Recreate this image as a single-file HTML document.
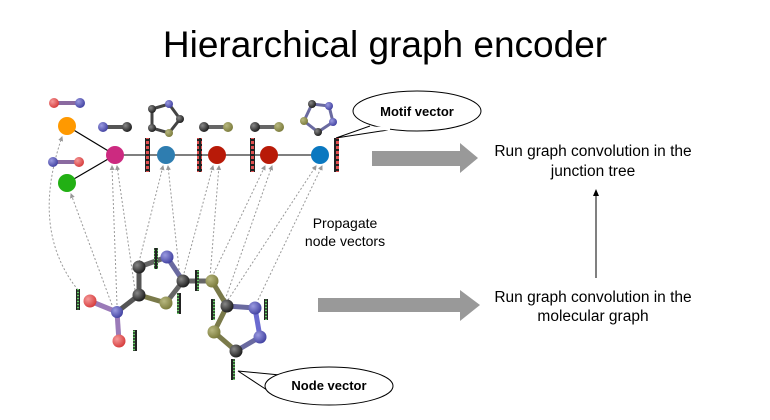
<!DOCTYPE html>
<html><head><meta charset="utf-8"><style>
html,body{margin:0;padding:0;background:#fff;}
svg{display:block;font-family:"Liberation Sans",Arial,sans-serif;}
</style></head><body>
<svg width="770" height="420" viewBox="0 0 770 420" xmlns="http://www.w3.org/2000/svg">
<defs>
<radialGradient id="gK" cx="35%" cy="35%" r="70%"><stop offset="0" stop-color="#888"/><stop offset="1" stop-color="#1a1a1a"/></radialGradient>
<radialGradient id="gB" cx="35%" cy="35%" r="70%"><stop offset="0" stop-color="#9a9ae0"/><stop offset="1" stop-color="#4040a0"/></radialGradient>
<radialGradient id="gR" cx="35%" cy="35%" r="70%"><stop offset="0" stop-color="#f59a9a"/><stop offset="1" stop-color="#d63a3a"/></radialGradient>
<radialGradient id="gS" cx="35%" cy="35%" r="70%"><stop offset="0" stop-color="#b8b880"/><stop offset="1" stop-color="#7a7a3a"/></radialGradient>
<marker id="ah" markerWidth="5" markerHeight="5" refX="4" refY="2.5" orient="auto"><path d="M0,0L5,2.5L0,5z" fill="#999"/></marker>
<pattern id="rb" width="5" height="5" patternUnits="userSpaceOnUse"><rect width="5" height="5" fill="#222"/><rect x="1" y="1" width="3" height="3" fill="#e05050"/></pattern>
<pattern id="gb" width="4" height="3" patternUnits="userSpaceOnUse"><rect width="4" height="3" fill="#222"/><rect x="1" y="0.7" width="2" height="1.6" fill="#6c6"/></pattern>
</defs>

<text x="385" y="57" font-size="37" text-anchor="middle" fill="#000">Hierarchical graph encoder</text>

<g stroke="#999" stroke-width="1" stroke-dasharray="2,2" fill="none" marker-end="url(#ah)">
<path d="M78,290 Q30,230 62,137"/>
<path d="M112,305 L71,194"/>
<path d="M117,305 L112,166"/>
<path d="M135,290 L117,166"/>
<path d="M139,262 L163,166"/>
<path d="M180,278 L168,166"/>
<path d="M183,277 L213,166"/>
<path d="M210,277 L219,166"/>
<path d="M212,277 L265,166"/>
<path d="M225,300 L272,166"/>
<path d="M228,300 L316,166"/>
<path d="M258,300 L322,166"/>
</g>

<line x1="115" y1="155" x2="320" y2="155" stroke="#555" stroke-width="1.5"/>
<line x1="115" y1="155" x2="67" y2="126" stroke="#000" stroke-width="1.2"/>
<line x1="115" y1="155" x2="67" y2="183" stroke="#000" stroke-width="1.2"/>

<line x1="54" y1="103" x2="80" y2="103" stroke="#8a6aa0" stroke-width="4"/>
<circle cx="54" cy="103" r="5" fill="url(#gR)"/><circle cx="80" cy="103" r="5" fill="url(#gB)"/>
<line x1="53" y1="162" x2="79" y2="162" stroke="#8a6aa0" stroke-width="4"/>
<circle cx="53" cy="162" r="5" fill="url(#gB)"/><circle cx="79" cy="162" r="5" fill="url(#gR)"/>
<line x1="103" y1="127" x2="127" y2="127" stroke="#555" stroke-width="4"/>
<circle cx="103" cy="127" r="5" fill="url(#gB)"/><circle cx="127" cy="127" r="5" fill="url(#gK)"/>
<line x1="204" y1="127" x2="228" y2="127" stroke="#666" stroke-width="4"/>
<circle cx="204" cy="127" r="5" fill="url(#gK)"/><circle cx="228" cy="127" r="5" fill="url(#gS)"/>
<line x1="255" y1="127" x2="279" y2="127" stroke="#666" stroke-width="4"/>
<circle cx="255" cy="127" r="5" fill="url(#gK)"/><circle cx="279" cy="127" r="5" fill="url(#gS)"/>
<polygon points="152,109 169,104 180,119 169,133 152,128" fill="none" stroke="#444" stroke-width="3"/>
<circle cx="152" cy="109" r="4" fill="url(#gK)"/><circle cx="169" cy="104" r="4" fill="url(#gB)"/>
<circle cx="180" cy="119" r="4" fill="url(#gK)"/><circle cx="169" cy="133" r="4" fill="url(#gS)"/><circle cx="152" cy="128" r="4" fill="url(#gK)"/>
<polygon points="312,104 329,106 333,122 318,132 304,121" fill="none" stroke="#6a6aa0" stroke-width="3"/>
<circle cx="312" cy="104" r="4" fill="url(#gK)"/><circle cx="329" cy="106" r="4" fill="url(#gB)"/>
<circle cx="333" cy="122" r="4" fill="url(#gB)"/><circle cx="318" cy="132" r="4" fill="url(#gK)"/><circle cx="304" cy="121" r="4" fill="url(#gS)"/>

<circle cx="67" cy="126" r="9" fill="#ff9900"/>
<circle cx="67" cy="183" r="9" fill="#22b014"/>
<circle cx="115" cy="155" r="9" fill="#cc2a80"/>
<circle cx="166" cy="155" r="9" fill="#2e7db0"/>
<circle cx="217" cy="155" r="9" fill="#b81a08"/>
<circle cx="269" cy="155" r="9" fill="#b81a08"/>
<circle cx="320" cy="155" r="9" fill="#0a78c0"/>

<rect x="145" y="138" width="5" height="34" fill="url(#rb)"/>
<rect x="197" y="138" width="5" height="34" fill="url(#rb)"/>
<rect x="250" y="138" width="5" height="34" fill="url(#rb)"/>
<rect x="334" y="138" width="5" height="34" fill="url(#rb)"/>

<g stroke-width="5" fill="none">
<line x1="90" y1="301" x2="117" y2="312" stroke="#9a7ab8"/>
<line x1="117" y1="312" x2="119" y2="341" stroke="#9a7ab8"/>
<line x1="117" y1="312" x2="139" y2="295" stroke="#555"/>
<line x1="139" y1="295" x2="139" y2="267" stroke="#555"/>
<line x1="139" y1="267" x2="167" y2="257" stroke="#666"/>
<line x1="167" y1="257" x2="183" y2="281" stroke="#6a6aa0"/>
<line x1="183" y1="281" x2="166" y2="303" stroke="#666"/>
<line x1="166" y1="303" x2="139" y2="295" stroke="#7a7a4a"/>
<line x1="183" y1="281" x2="212" y2="281" stroke="#666"/>
<line x1="212" y1="281" x2="227" y2="306" stroke="#7a7a4a"/>
<line x1="227" y1="306" x2="255" y2="308" stroke="#6a6aa0"/>
<line x1="255" y1="308" x2="260" y2="337" stroke="#6a6ad0"/>
<line x1="260" y1="337" x2="236" y2="351" stroke="#6a6aa0"/>
<line x1="236" y1="351" x2="214" y2="332" stroke="#7a7a4a"/>
<line x1="214" y1="332" x2="227" y2="306" stroke="#7a7a4a"/>
</g>
<circle cx="90" cy="301" r="6.5" fill="url(#gR)"/>
<circle cx="119" cy="341" r="6.5" fill="url(#gR)"/>
<circle cx="117" cy="312" r="6" fill="url(#gB)"/>
<circle cx="139" cy="295" r="6.5" fill="url(#gK)"/>
<circle cx="139" cy="267" r="6.5" fill="url(#gK)"/>
<circle cx="167" cy="257" r="6.5" fill="url(#gB)"/>
<circle cx="183" cy="281" r="6.5" fill="url(#gK)"/>
<circle cx="166" cy="303" r="6.5" fill="url(#gS)"/>
<circle cx="212" cy="281" r="6.5" fill="url(#gS)"/>
<circle cx="227" cy="306" r="6.5" fill="url(#gK)"/>
<circle cx="255" cy="308" r="6.5" fill="url(#gB)"/>
<circle cx="260" cy="337" r="6.5" fill="url(#gB)"/>
<circle cx="236" cy="351" r="6.5" fill="url(#gK)"/>
<circle cx="214" cy="332" r="6.5" fill="url(#gS)"/>

<rect x="76" y="289" width="4" height="21" fill="url(#gb)"/>
<rect x="133" y="330" width="4" height="21" fill="url(#gb)"/>
<rect x="154" y="248" width="4" height="21" fill="url(#gb)"/>
<rect x="177" y="293" width="4" height="21" fill="url(#gb)"/>
<rect x="195" y="270" width="4" height="21" fill="url(#gb)"/>
<rect x="211" y="299" width="4" height="21" fill="url(#gb)"/>
<rect x="264" y="299" width="4" height="21" fill="url(#gb)"/>
<rect x="231" y="359" width="4" height="21" fill="url(#gb)"/>

<path d="M370,126 L336,138 L388,130" fill="#fff" stroke="#000" stroke-width="1"/>
<ellipse cx="417" cy="111" rx="64" ry="20" fill="#fff" stroke="#000" stroke-width="1"/>
<path d="M372,128 L390,129" stroke="#fff" stroke-width="3"/>
<text x="417" y="116" font-size="13" font-weight="bold" text-anchor="middle">Motif vector</text>

<path d="M280,375 L238,371 L270,392" fill="#fff" stroke="#000" stroke-width="1"/>
<ellipse cx="329" cy="386" rx="64" ry="19" fill="#fff" stroke="#000" stroke-width="1"/>
<text x="329" y="390" font-size="13" font-weight="bold" text-anchor="middle">Node vector</text>

<text x="345" y="228" font-size="14" text-anchor="middle">Propagate</text>
<text x="345" y="246" font-size="14" text-anchor="middle">node vectors</text>

<polygon points="372,151 460,151 460,143 478,158 460,173 460,166 372,166" fill="#999"/>
<polygon points="318,298 460,298 460,290 480,305 460,321 460,312 318,312" fill="#999"/>

<text x="593" y="156" font-size="15.5" text-anchor="middle">Run graph convolution in the</text>
<text x="593" y="176" font-size="15.5" text-anchor="middle">junction tree</text>
<text x="593" y="302" font-size="15.5" text-anchor="middle">Run graph convolution in the</text>
<text x="593" y="321" font-size="15.5" text-anchor="middle">molecular graph</text>
<line x1="596" y1="278" x2="596" y2="194" stroke="#000" stroke-width="1"/>
<path d="M593,196 L596,189 L599,196z" fill="#000"/>
</svg>
</body></html>
